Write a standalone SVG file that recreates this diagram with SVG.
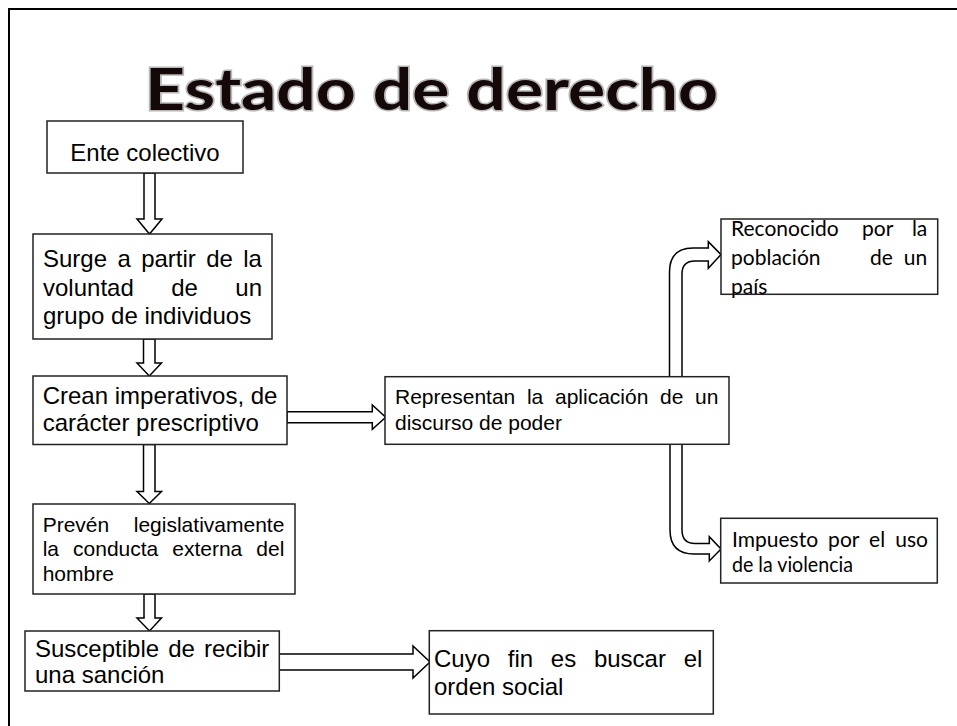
<svg xmlns="http://www.w3.org/2000/svg" width="957" height="726" viewBox="0 0 957 726">
<style>
.frame{fill:#fff;stroke:#000;stroke-width:2}
.box{fill:#fff;stroke:#222;stroke-width:1.5}
.arrow{fill:#fff;stroke:#000;stroke-width:1.5;stroke-linejoin:miter}
.t{font-family:"Liberation Sans",Arial,sans-serif;fill:#000}
.s24{font-size:24px}
.s21{font-size:21px}
.c{font-family:Lato,"Open Sans","Liberation Sans",sans-serif;font-size:21px;fill:#000}
.title{font-family:Lato,"Open Sans","Liberation Sans",sans-serif;font-weight:bold;font-size:58px}
</style>
<rect class="frame" x="9" y="9" width="960" height="730"/>
<g id="title">
<text class="title" x="145" y="110" textLength="573" lengthAdjust="spacingAndGlyphs" fill="none" stroke="#888" stroke-width="3" opacity="0.6">Estado de derecho</text>
<text class="title" x="145" y="110" textLength="573" lengthAdjust="spacingAndGlyphs" fill="#140808">Estado de derecho</text>
</g>
<g id="connectors">
<polygon class="arrow" points="144,173 155,173 155,219 162,219 149.5,234 137,219 144,219"/>
<polygon class="arrow" points="143.5,339 155,339 155,363 161.5,363 149.3,376 137,363 143.5,363"/>
<polygon class="arrow" points="143.5,444.5 155,444.5 155,491.5 161.5,491.5 149.3,503.5 137,491.5 143.5,491.5"/>
<polygon class="arrow" points="144,594 155,594 155,618 161.5,618 149.5,631 137,618 144,618"/>
<polygon class="arrow" points="287,411.7 372.3,411.7 372.3,405 385.7,417.2 372.3,429.3 372.3,422.7 287,422.7"/>
<polygon class="arrow" points="279,654 413,654 413,646 430,662 413,678 413,670 279,670"/>
<path class="arrow" d="M669.5,376.5 L669.5,272 Q669.5,248 693,248 L708.3,248 L708.3,241.7 L721,254.6 L708.3,268.3 L708.3,261 L695,261 Q682,261 682,274 L682,376.5"/>
<path class="arrow" d="M670,444.5 L670,530 Q670,554 694,554 L709.3,554 L709.3,561 L721,549 L709.3,536.7 L709.3,543.5 L695,543.5 Q682,543.5 682,530 L682,444.5"/>
</g>
<g id="n1">
<rect class="box" x="47" y="121" width="196" height="52"/>
<text class="t s24" x="145" y="161" text-anchor="middle">Ente colectivo</text>
</g>
<g id="n2">
<rect class="box" x="33" y="234" width="239" height="105"/>
<text class="t s24" x="43" y="266.7" word-spacing="3.7">Surge a partir de la</text>
<text class="t s24" x="43" y="295.5" word-spacing="30.8">voluntad de un</text>
<text class="t s24" x="43" y="324">grupo de individuos</text>
</g>
<g id="n3">
<rect class="box" x="33" y="376" width="254" height="68.5"/>
<text class="t s24" x="42.7" y="404">Crean imperativos, de</text>
<text class="t s24" x="42.7" y="431">carácter prescriptivo</text>
</g>
<g id="n4">
<rect class="box" x="385" y="376.7" width="344" height="67.6"/>
<text class="t s21" x="395" y="404" word-spacing="5.86">Representan la aplicación de un</text>
<text class="t s21" x="395" y="430">discurso de poder</text>
</g>
<g id="n5">
<rect class="box" x="33" y="504" width="262" height="90"/>
<text class="t s21" x="42.7" y="531.7" word-spacing="18.7">Prevén legislativamente</text>
<text class="t s21" x="42.7" y="556" word-spacing="8.16">la conducta externa del</text>
<text class="t s21" x="42.7" y="581">hombre</text>
</g>
<g id="n6">
<rect class="box" x="25" y="631" width="254.3" height="60"/>
<text class="t s24" x="35" y="656.7" word-spacing="2.43">Susceptible de recibir</text>
<text class="t s24" x="35" y="683.3">una sanción</text>
</g>
<g id="n7">
<rect class="box" x="429.3" y="630.7" width="284" height="83.3"/>
<text class="t s24" x="434" y="666.7" word-spacing="11.05">Cuyo fin es buscar el</text>
<text class="t s24" x="434" y="695">orden social</text>
</g>
<g id="n8">
<rect class="box" x="721" y="219" width="216.7" height="75.3"/>
<text class="c" y="236"><tspan x="731">Reconocido</tspan><tspan x="862">por</tspan><tspan x="927.3" text-anchor="end">la</tspan></text>
<text class="c" y="265"><tspan x="731">población</tspan><tspan x="870">de</tspan><tspan x="927.3" text-anchor="end">un</tspan></text>
<text class="c" x="731" y="294">país</text>
</g>
<g id="n9">
<rect class="box" x="720.7" y="518.3" width="216.6" height="64.7"/>
<text class="c" x="732" y="546.7" word-spacing="4.7">Impuesto por el uso</text>
<text class="c" x="732" y="571.7" textLength="121" lengthAdjust="spacingAndGlyphs">de la violencia</text>
</g>
</svg>
